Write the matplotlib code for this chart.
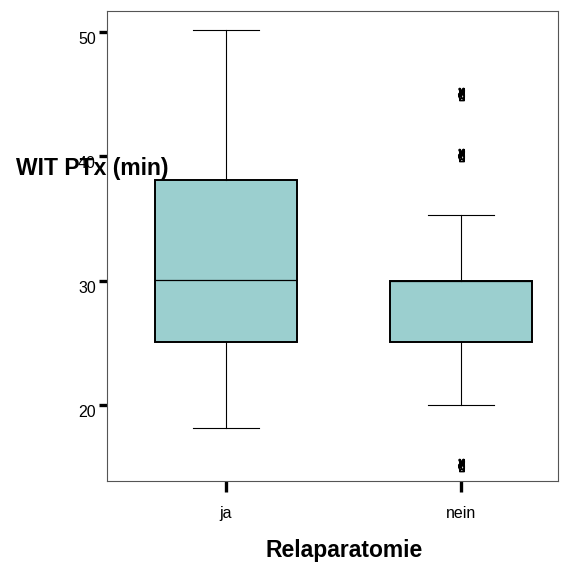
import matplotlib
matplotlib.use("Agg")
import matplotlib.pyplot as plt

# box statistics per group (minutes)
groups = ["ja", "nein"]
whisker_low = [18.2, 20.0]
q1 = [25.1, 25.1]
medians = [30.1, 30.0]
q3 = [38.1, 30.0]
whisker_high = [50.2, 35.3]
outliers = [[], [45.0, 40.1, 15.2]]

y_ticks = [20, 30, 40, 50]

plt.rcParams["font.family"] = ["Liberation Sans", "DejaVu Sans"]

fig = plt.figure(figsize=(5.68, 5.67), dpi=100)
ax = fig.add_axes([107 / 568, 1 - 481 / 567, 451 / 568, 470 / 567])

stats = []
for i, name in enumerate(groups):
    stats.append({
        "label": name,
        "whislo": whisker_low[i],
        "q1": q1[i],
        "med": medians[i],
        "q3": q3[i],
        "whishi": whisker_high[i],
        "fliers": outliers[i],
    })

ax.bxp(
    stats,
    positions=range(len(groups)),
    widths=0.605,
    patch_artist=True,
    showfliers=True,
    boxprops=dict(facecolor="#9bcfcf", edgecolor="black", linewidth=1.4),
    medianprops=dict(color="black", linewidth=0.9),
    whiskerprops=dict(color="black", linewidth=0.8),
    capprops=dict(color="black", linewidth=0.8),
    capwidths=0.28,
    flierprops=dict(marker="$\u270c$", markersize=9, markeredgewidth=0.9,
                    markerfacecolor="black", markeredgecolor="black"),
)

ax.set_xlim(-0.506, 1.413)
ax.set_ylim(13.9, 51.7)
ax.set_xticks(range(len(groups)))
ax.set_xticklabels(groups)
ax.set_yticks(y_ticks)

for s in ax.spines.values():
    s.set_color("#555555")
    s.set_linewidth(0.8)

ax.tick_params(axis="x", direction="out", length=8, width=2.4, color="black",
               labelsize=11.5, pad=10)
ax.tick_params(axis="y", direction="out", length=6, width=2.4, color="black",
               labelsize=11.5, pad=2)
for lbl in ax.get_yticklabels():
    lbl.set_verticalalignment("top")

fig.text(16 / 568, 1 - 168 / 567, "WIT PTx (min)", ha="left", va="center",
         fontsize=16.5, fontweight="bold")
fig.text(344 / 568, 1 - 550 / 567, "Relaparatomie", ha="center", va="center",
         fontsize=16.5, fontweight="bold")

fig.savefig("out.png", dpi=100)
